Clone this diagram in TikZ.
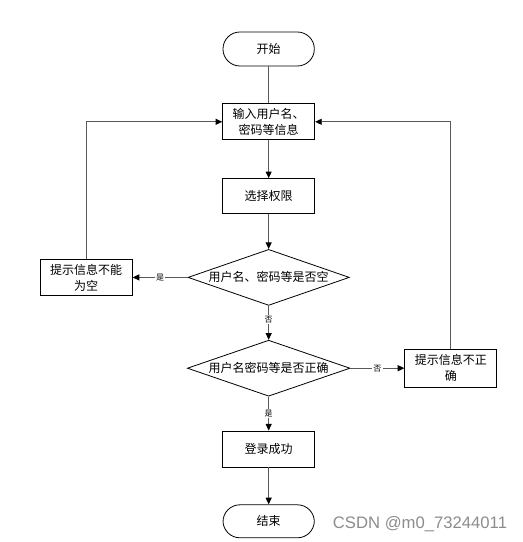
\documentclass[tikz,border=0pt]{standalone}
\usepackage{fontspec}
\newfontfamily\cjk{Noto Sans CJK SC}
\newfontfamily\wmfont{Liberation Sans}
\usepackage{tikz}
\usetikzlibrary{positioning, arrows.meta, shapes.geometric}

\begin{document}
\begin{tikzpicture}[
    terminal/.style={rectangle, draw, rounded corners=12.7pt, line width=0.6pt,
                  minimum height=25.5pt, minimum width=68.5pt,
                  align=center, font=\cjk\fontsize{9}{12}\selectfont},
    block/.style={rectangle, draw, line width=0.6pt,
                  minimum height=27pt, minimum width=69pt,
                  text width=66pt, align=center, inner sep=1pt,
                  font=\cjk\fontsize{9}{12}\selectfont},
    decision/.style={diamond, draw, line width=0.6pt, aspect=2.86, inner sep=0pt,
                  minimum width=121pt, minimum height=42pt,
                  align=center, font=\cjk\fontsize{9}{12}\selectfont},
    arr/.style={-{Triangle[length=5pt, width=4.5pt, color=black]},
                draw=black!65, line width=0.7pt},
    line/.style={draw=black!65, line width=0.7pt},
    note/.style={font=\cjk\fontsize{6}{7}\selectfont, fill=white, inner sep=1pt},
]
\useasboundingbox (0,0) rectangle (392.25pt,-406.5pt);

% Main column
\node[terminal] (start) at (201.5pt,-36.75pt) {开始};
\node[block, below=27.75pt of start] (input) {输入用户名、\\密码等信息};
\node[block, below=28.5pt of input, minimum height=26.25pt] (choose) {选择权限};
\node[decision, below=26.25pt of choose] (empty) {用户名、密码等是否空};
\node[decision, below=25.5pt of empty, minimum width=122pt] (check) {用户名密码等是否正确};
\node[block, below=25.5pt of check] (ok) {登录成功};
\node[terminal, below=27.75pt of ok, minimum height=24.75pt] (end) {结束};

% Side boxes
\node[block, left=41.25pt of empty] (warnempty) {提示信息不能\\为空};
\node[block, right=40.5pt of check, minimum height=28.5pt] (warnwrong) {提示信息不正\\确};

% Watermark
\node[font=\wmfont\fontsize{12.5}{14}\selectfont, text=black!45, anchor=east, inner sep=0pt]
    (watermark) at (380.5pt,-393pt) {CSDN @m0\_73244011};

% Arrows
\draw[line] (start) -- (input);
\draw[arr] (input) -- (choose);
\draw[arr] (choose) -- (empty);
\draw[arr] (empty) -- (warnempty) node[note, midway] {是};
\draw[arr] (empty) -- (check) node[note, pos=0.4] {否};
\draw[arr] (check) -- (warnwrong) node[note, midway] {否};
\draw[arr] (check) -- (ok) node[note, midway] {是};
\draw[arr] (ok) -- (end);

% Back loops
\draw[arr] (warnempty.north) |- (input.west);
\draw[arr] (warnwrong.north) |- (input.east);

\end{tikzpicture}
\end{document}
